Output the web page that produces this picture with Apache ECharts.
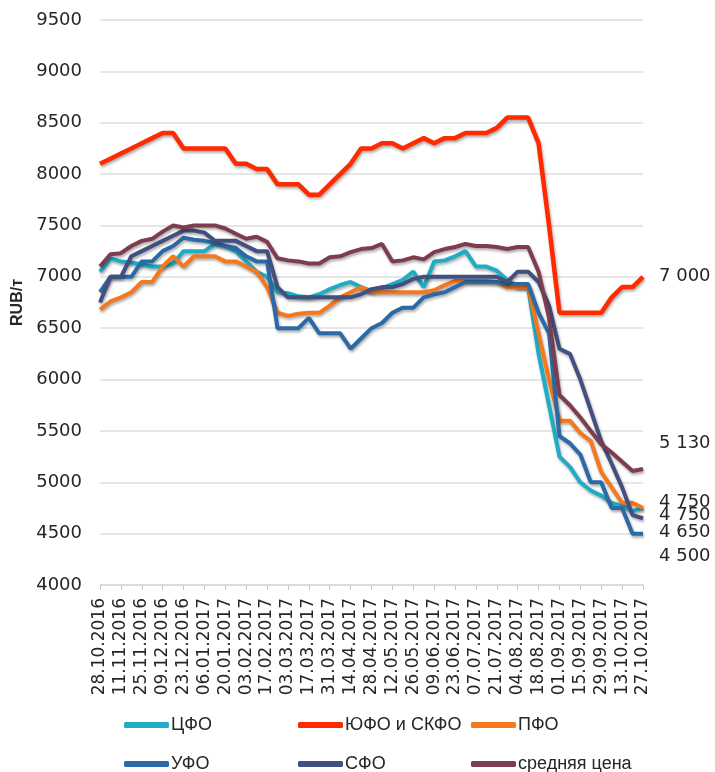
<!DOCTYPE html>
<html>
<head>
<meta charset="utf-8">
<script src="https://cdn.jsdelivr.net/npm/echarts@6/dist/echarts.min.js"></script>
<style>
html,body{margin:0;padding:0;background:#fff;}
#chart{width:715px;height:772px;}
</style>
</head>
<body>
<div id="chart"></div>
<script>
const categories = ['28.10.2016','04.11.2016','11.11.2016','18.11.2016','25.11.2016','02.12.2016','09.12.2016','16.12.2016','23.12.2016','30.12.2016','06.01.2017','13.01.2017','20.01.2017','27.01.2017','03.02.2017','10.02.2017','17.02.2017','24.02.2017','03.03.2017','10.03.2017','17.03.2017','24.03.2017','31.03.2017','07.04.2017','14.04.2017','21.04.2017','28.04.2017','05.05.2017','12.05.2017','19.05.2017','26.05.2017','02.06.2017','09.06.2017','16.06.2017','23.06.2017','30.06.2017','07.07.2017','14.07.2017','21.07.2017','28.07.2017','04.08.2017','11.08.2017','18.08.2017','25.08.2017','01.09.2017','08.09.2017','15.09.2017','22.09.2017','29.09.2017','06.10.2017','13.10.2017','20.10.2017','27.10.2017'];

const seriesNames = ['ЦФО','ЮФО и СКФО','ПФО','УФО','СФО','средняя цена'];

const cfo = [7050,7180,7150,7140,7120,7100,7100,7130,7250,7250,7250,7320,7300,7250,7150,7050,7000,6850,6840,6810,6800,6830,6880,6920,6950,6900,6860,6890,6930,6970,7050,6900,7150,7160,7200,7250,7100,7100,7060,6970,6900,6900,6250,5750,5250,5150,5000,4920,4870,4800,4770,4720,4750];

const yufo = [8100,8150,8200,8250,8300,8350,8400,8400,8250,8250,8250,8250,8250,8100,8100,8050,8050,7900,7900,7900,7800,7800,7900,8000,8100,8250,8250,8300,8300,8250,8300,8350,8300,8350,8350,8400,8400,8400,8450,8550,8550,8550,8300,7500,6650,6650,6650,6650,6650,6800,6900,6900,7000];

const pfo = [6680,6760,6800,6850,6950,6950,7100,7200,7100,7200,7200,7200,7150,7150,7100,7050,6900,6650,6620,6640,6650,6650,6720,6800,6850,6900,6850,6850,6850,6850,6850,6850,6870,6920,6960,6960,6960,6960,6950,6900,6900,6900,6450,6000,5600,5600,5480,5400,5100,4950,4800,4800,4750];

const ufo = [6850,7000,7000,7000,7150,7150,7250,7300,7380,7360,7350,7330,7300,7280,7200,7150,7150,6500,6500,6500,6600,6450,6450,6450,6300,6400,6500,6550,6650,6700,6700,6800,6830,6850,6900,6950,6950,6950,6950,6930,6930,6930,6650,6450,5450,5380,5270,5000,5000,4750,4750,4500,4500];

const sfo = [6750,7000,7000,7200,7250,7300,7350,7400,7450,7450,7430,7350,7350,7350,7300,7250,7250,6900,6800,6800,6800,6800,6800,6800,6800,6830,6880,6900,6900,6930,6980,7000,7000,7000,7000,7000,7000,7000,7000,6950,7050,7050,6950,6720,6300,6250,6000,5700,5400,5180,4950,4680,4650];

const avg = [7100,7220,7230,7300,7350,7370,7440,7500,7480,7500,7500,7500,7470,7420,7370,7390,7340,7180,7160,7150,7130,7130,7190,7200,7240,7270,7280,7320,7150,7160,7190,7170,7240,7270,7290,7320,7300,7300,7290,7270,7290,7290,7050,6600,5850,5750,5630,5500,5370,5290,5200,5110,5130];

const yMin = 4000, yMax = 9500, yStep = 500;

const colors = ['#1fadc6','#ff2a00','#f5781e','#2b6aa6','#434f7f','#7d3d4f'];
const seriesData = [cfo, yufo, pfo, ufo, sfo, avg];
const endOffsets = [7, 0, -6, 23, 14, -26];

function fmt(v){
  return String(v).replace(/\B(?=(\d{3})+(?!\d))/g, ' ');
}

const chart = echarts.init(document.getElementById('chart'), null, {renderer:'canvas'});

const series = seriesNames.map((name, i) => ({
  name: name,
  type: 'line',
  data: seriesData[i],
  symbol: 'none',
  smooth: false,
  color: colors[i],
  lineStyle: {
    width: i === 1 ? 4.5 : 4,
    color: colors[i],
    shadowColor: 'rgba(0,0,0,0.35)',
    shadowBlur: 3,
    shadowOffsetX: 1,
    shadowOffsetY: 2
  },
  endLabel: {
    show: true,
    distance: 16,
    offset: [0, endOffsets[i]],
    fontFamily: 'DejaVu Sans',
    fontSize: 18,
    color: '#262626',
    formatter: p => fmt(p.value)
  },
  z: 2 + i
}));

const legendLefts = [119, 293, 466, 119, 293, 466];
const legendTops = [711, 711, 711, 750, 750, 750];
const legends = seriesNames.map((name, i) => ({
  data: [name],
  left: legendLefts[i],
  top: legendTops[i],
  icon: 'roundRect',
  itemWidth: 45,
  itemHeight: 6,
  itemGap: 4,
  textStyle: {fontFamily: 'Liberation Sans', fontSize: 18, color: '#262626', padding: [0, 0, 0, -3]}
}));

chart.setOption({
  animation: false,
  backgroundColor: '#ffffff',
  grid: {left: 100, right: 72, top: 20, bottom: 187, containLabel: false},
  xAxis: {
    type: 'category',
    data: categories,
    boundaryGap: false,
    axisLine: {show: true, lineStyle: {color: '#d9d9d9', width: 1.5}},
    axisTick: {show: true, interval: 1, length: 5, lineStyle: {color: '#c8c8c8'}},
    axisLabel: {
      interval: 1,
      rotate: 90,
      margin: 13,
      fontFamily: 'DejaVu Sans',
      fontSize: 17,
      color: '#262626'
    },
    splitLine: {show: false}
  },
  yAxis: {
    type: 'value',
    min: yMin,
    max: yMax,
    interval: yStep,
    name: 'RUB/т',
    nameLocation: 'middle',
    nameRotate: 90,
    nameGap: 68,
    nameTextStyle: {fontFamily: 'Liberation Sans', fontWeight: 'bold', fontSize: 16, color: '#262626'},
    axisLine: {show: false},
    axisTick: {show: false},
    axisLabel: {margin: 18, fontFamily: 'DejaVu Sans', fontSize: 18, color: '#262626', formatter: v => String(v)},
    splitLine: {show: true, lineStyle: {color: '#dedede', width: 1.5}}
  },
  legend: legends,
  series: series
});
</script>
</body>
</html>
